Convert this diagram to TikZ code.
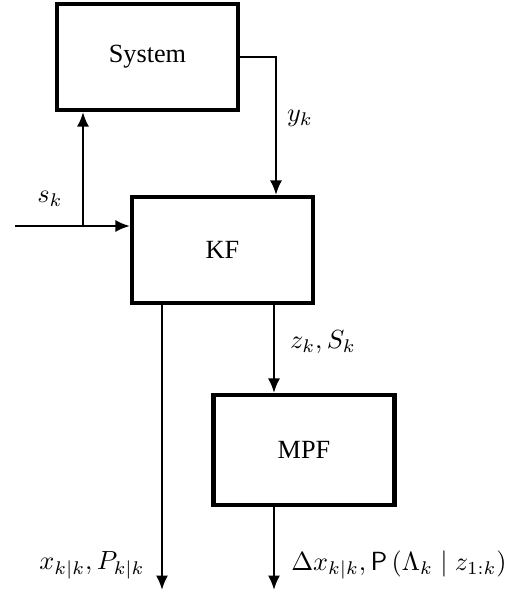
\documentclass[tikz,border=0pt]{standalone}
\usepackage{fontspec}
\newfontfamily\blockfont{Liberation Serif}
\usetikzlibrary{arrows.meta}
\begin{document}
\begin{tikzpicture}[x=0.381pt,y=-0.381pt,
  blockbox/.style={draw,line width=1.6pt,minimum width=69pt,minimum height=40.4pt,inner sep=0pt,font=\blockfont},
  arr/.style={line width=0.8pt,-{Latex[length=5.5pt,width=4.6pt]}},
  lbl/.style={inner sep=0pt}]
\useasboundingbox (0,0) rectangle (525,594);
\node[blockbox] (sys) at (147.5,57) {System};
\node[blockbox] (kf) at (222.5,250) {KF};
\node[blockbox,minimum height=41.9pt] (mpf) at (304,450) {MPF};
\coordinate (ykx) at (276,0);
\coordinate (sin) at (15,226);
\coordinate (sx) at (83,226);
\coordinate (xo) at (162,590);
\coordinate (zx) at (274,0);
\coordinate (mo) at (274,590);
\draw[arr] (sys.east) -| (ykx |- kf.north);
\draw[arr] (sin) -- (sin -| kf.west);
\draw[arr] (sx) -- (sx |- sys.south);
\draw[arr] (xo |- kf.south) -- (xo);
\draw[arr] (zx |- kf.south) -- (zx |- mpf.north);
\draw[arr] (zx |- mpf.south) -- (mo);
\node[lbl] (lsk) at (50,199) {$s_k$};
\node[lbl] (lyk) at (300,118) {$y_k$};
\node[lbl] (lzk) at (323,342) {$z_k, S_k$};
\node[lbl] (lx) at (92,565) {$x_{k|k}, P_{k|k}$};
\node[lbl] (ld) at (399,565) {$\Delta x_{k|k}, \mathsf{P}\left(\Lambda_k \mid z_{1:k}\right)$};
\end{tikzpicture}
\end{document}
